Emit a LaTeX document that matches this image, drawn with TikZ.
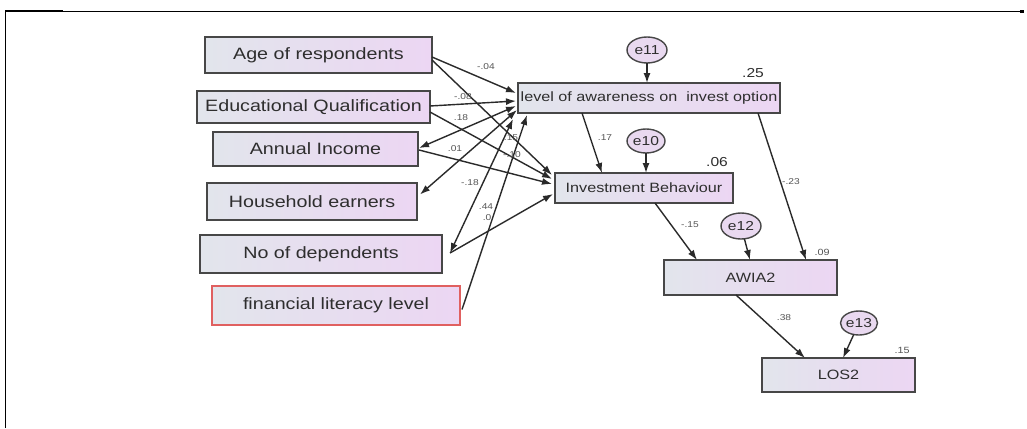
\documentclass[tikz,border=0pt]{standalone}
\usepackage{fontspec}
\newfontfamily\df[FakeStretch=1.2]{Liberation Sans}
\usetikzlibrary{arrows.meta,calc,shapes.geometric}
\definecolor{bd}{HTML}{474747}
\definecolor{bl}{HTML}{E2E5EC}
\definecolor{br}{HTML}{ECD6F3}
\definecolor{ef}{HTML}{E9D9F0}
\definecolor{ln}{HTML}{2A2A2A}
\definecolor{lg}{HTML}{555555}
\definecolor{tx}{HTML}{2E2E2E}
\definecolor{rb}{HTML}{E06060}
\begin{document}
\begin{tikzpicture}[x=1pt,y=-1pt,
  box/.style={draw=bd, line width=1.5pt, left color=bl, right color=br, inner sep=0pt, outer sep=0pt, text=tx, font=\df\fontsize{16.4}{18}\selectfont},
  sbox/.style={font=\df\fontsize{13.5}{15}\selectfont},
  ell/.style={ellipse, draw=bd, line width=1.4pt, fill=ef, minimum width=40pt, minimum height=26pt, inner sep=0pt, outer sep=0pt, text=tx, font=\df\fontsize{13}{14}\selectfont},
  arr/.style={draw=ln, line width=1.4pt, -{Latex[length=10pt,width=7pt]}},
  darr/.style={draw=ln, line width=1.4pt, {Latex[length=10pt,width=7pt]}-{Latex[length=10pt,width=7pt]}},
  plab/.style={inner sep=0pt, text=lg, font=\df\fontsize{8.5}{10}\selectfont},
  rbig/.style={inner sep=0pt, text=tx, font=\df\fontsize{13}{14}\selectfont},
  rsmall/.style={inner sep=0pt, text=lg, font=\df\fontsize{9}{10}\selectfont}]
\useasboundingbox (0,0) rectangle (1027,428);
\fill[white] (0,0) rectangle (1027,428);
% frame
\draw[line width=1pt] (5.5,428) -- (5.5,12) -- (1022,12);
\draw[line width=2.5pt] (5,11) -- (63,11);
\fill (1020,10.5) rectangle (1024,13.5);
% left boxes
\node[box, minimum width=227pt, minimum height=36pt] (age) at (318.5,55) {Age of respondents};
\node[box, minimum width=233pt, minimum height=32pt] (edu) at (313.5,107) {Educational Qualification};
\node[box, minimum width=205pt, minimum height=34pt] (inc) at (315.5,149) {Annual Income};
\node[box, minimum width=210pt, minimum height=37pt] (hh) at (312,201.5) {Household earners};
\node[box, minimum width=242pt, minimum height=38pt] (dep) at (321,254) {No of dependents};
\node[box, draw=rb, minimum width=248pt, minimum height=39pt] (fin) at (336,305.5) {financial literacy level};
% right boxes
\node[box, sbox, minimum width=262pt, minimum height=30pt] (aw) at (649,98) {level of awareness on~ invest option};
\node[box, sbox, minimum width=178pt, minimum height=30pt] (ib) at (644,188) {Investment Behaviour};
\node[box, sbox, minimum width=173pt, minimum height=35pt] (awia) at (750.5,277.5) {AWIA2};
\node[box, sbox, minimum width=153pt, minimum height=34pt] (los) at (838.5,375) {LOS2};
% error terms
\node[ell] (e11) at (647,50) {e11};
\node[ell, minimum width=38pt, minimum height=24pt] (e10) at (646,141) {e10};
\node[ell] (e12) at (741,226) {e12};
\node[ell, minimum width=37pt, minimum height=24pt] (e13) at (859,323) {e13};
% left connectors
\draw[arr] ($(age.east)+(0,2)$) -- ($(aw.west)+(-2,-5)$);
\draw[arr] ($(age.east)+(0,5)$) -- ($(ib.west)+(-3,-13)$);
\draw[arr] ($(edu.east)+(0,-1)$) -- ($(aw.west)+(-2,3)$);
\draw[arr] ($(edu.east)+(0,5)$) -- ($(ib.west)+(-3,-9)$);
\draw[darr] ($(inc.east)+(1,-1)$) -- ($(aw.west)+(-2,8)$);
\draw[arr] ($(inc.east)+(1,1)$) -- ($(ib.west)+(-3,-4)$);
\draw[darr] ($(hh.east)+(3,-7)$) -- ($(aw.west)+(-1,12)$);
\draw[darr] ($(dep.east)+(8,-1)$) -- ($(aw.south west)+(-5,6)$);
\draw[arr] ($(dep.east)+(8,-1)$) -- ($(ib.west)+(-2,6)$);
\draw[arr] ($(fin.east)+(2,4)$) -- ($(aw.south west)+(9,2)$);
% left path labels
\node[plab] (p1) at (486,67) {-.04};
\node[plab] (p2) at (463,97) {-.08};
\node[plab] (p3) at (461,118) {.18};
\node[plab] (p4) at (455,149) {.01};
\node[plab] (p5) at (511,138) {.15};
\node[plab] (p6) at (512,155) {-.10};
\node[plab] (p7) at (470,183) {-.18};
\node[plab] (p8) at (486,207) {.44};
\node[plab] (p9) at (487,218) {.0};
% right connectors
\draw[arr] (e11) -- (e11 |- aw.north);
\draw[arr] (e10) -- (e10 |- ib.north);
\draw[arr] ($(aw.south west)+(64,0)$) -- ($(ib.north west)+(47,0)$);
\draw[arr] ($(aw.south east)+(-22,0)$) -- ($(awia.north west)+(142,0)$);
\draw[arr] ($(ib.south west)+(100,0)$) -- ($(awia.north west)+(33,0)$);
\draw[arr] (e12) -- ($(awia.north west)+(86,0)$);
\draw[arr] ($(awia.south west)+(72,0)$) -- ($(los.north west)+(43,0)$);
\draw[arr] (e13) -- ($(los.north west)+(81,0)$);
% right labels
\node[plab] (q1) at (605,138) {.17};
\node[plab] (q2) at (791,182) {-.23};
\node[plab] (q3) at (690,225) {-.15};
\node[plab] (q4) at (784,318) {.38};
\node[rbig] (r1) at (753,73) {.25};
\node[rbig] (r2) at (717,162) {.06};
\node[rsmall] (r3) at (822,252) {.09};
\node[rsmall] (r4) at (902,350) {.15};
\end{tikzpicture}
\end{document}
